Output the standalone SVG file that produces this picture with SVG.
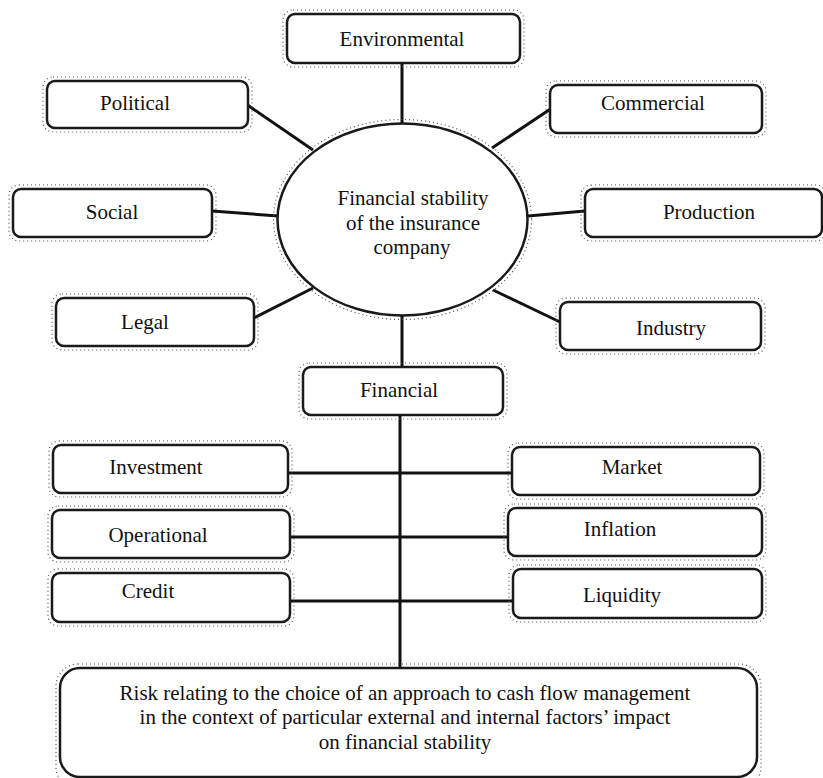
<svg xmlns="http://www.w3.org/2000/svg" width="823" height="778" viewBox="0 0 823 778">
<style>
.box{fill:#fff;stroke:#1a1a1a;stroke-width:2.5}
.halo{fill:none;stroke:#555;stroke-width:1.2;stroke-dasharray:1 3}
.t{font-family:"Liberation Serif","Times New Roman",serif;font-size:21px;fill:#111;text-anchor:middle}
.c{stroke:#111;stroke-width:3;fill:none}
</style>
<rect width="823" height="778" fill="#fff"/>
<g id="connectors">
<line class="c" x1="402" y1="63" x2="402" y2="124"/>
<line class="c" x1="246" y1="104" x2="313" y2="150"/>
<line class="c" x1="552" y1="108" x2="492" y2="148"/>
<line class="c" x1="212" y1="211" x2="278" y2="216"/>
<line class="c" x1="585" y1="211" x2="528" y2="216"/>
<line class="c" x1="254" y1="318" x2="313" y2="288"/>
<line class="c" x1="560" y1="322" x2="493" y2="290"/>
<line class="c" x1="402" y1="315" x2="402" y2="367"/>
<line class="c" x1="400" y1="415" x2="400" y2="668"/>
<line class="c" x1="288" y1="473" x2="512" y2="473"/>
<line class="c" x1="290" y1="537" x2="508" y2="537"/>
<line class="c" x1="290" y1="601" x2="513" y2="601"/>
</g>
<g id="center">
<ellipse class="halo" cx="402.5" cy="219.5" rx="129" ry="100"/>
<ellipse class="box" cx="402.5" cy="219.5" rx="125" ry="96"/>
<text class="t" x="413" y="205">Financial stability</text>
<text class="t" x="413" y="230">of the insurance</text>
<text class="t" x="412" y="254">company</text>
</g>
<g id="environmental">
<rect class="halo" x="283" y="10" width="241" height="57" rx="10"/>
<rect class="box" x="287" y="14" width="233" height="49" rx="8"/>
<text class="t" x="402" y="46">Environmental</text>
</g>
<g id="political">
<rect class="halo" x="43" y="77" width="209" height="55" rx="10"/>
<rect class="box" x="47" y="81" width="201" height="47" rx="8"/>
<text class="t" x="135" y="110">Political</text>
</g>
<g id="commercial">
<rect class="halo" x="546" y="81" width="220" height="56" rx="10"/>
<rect class="box" x="550" y="85" width="212" height="48" rx="8"/>
<text class="t" x="653" y="110">Commercial</text>
</g>
<g id="social">
<rect class="halo" x="9" y="185" width="207" height="56" rx="10"/>
<rect class="box" x="13" y="189" width="199" height="48" rx="8"/>
<text class="t" x="112" y="219">Social</text>
</g>
<g id="production">
<rect class="halo" x="581" y="185" width="245" height="56" rx="10"/>
<rect class="box" x="585" y="189" width="237" height="48" rx="8"/>
<text class="t" x="709" y="219">Production</text>
</g>
<g id="legal">
<rect class="halo" x="52" y="294" width="206" height="56" rx="10"/>
<rect class="box" x="56" y="298" width="198" height="48" rx="8"/>
<text class="t" x="145" y="329">Legal</text>
</g>
<g id="industry">
<rect class="halo" x="556" y="298" width="209" height="56" rx="10"/>
<rect class="box" x="560" y="302" width="201" height="48" rx="8"/>
<text class="t" x="671" y="335">Industry</text>
</g>
<g id="financial">
<rect class="halo" x="299" y="363" width="208" height="56" rx="10"/>
<rect class="box" x="303" y="367" width="200" height="48" rx="8"/>
<text class="t" x="399" y="397">Financial</text>
</g>
<g id="investment">
<rect class="halo" x="49" y="441" width="243" height="56" rx="10"/>
<rect class="box" x="53" y="445" width="235" height="48" rx="8"/>
<text class="t" x="156" y="474">Investment</text>
</g>
<g id="operational">
<rect class="halo" x="48" y="506" width="246" height="56" rx="10"/>
<rect class="box" x="52" y="510" width="238" height="48" rx="8"/>
<text class="t" x="158" y="542">Operational</text>
</g>
<g id="credit">
<rect class="halo" x="48" y="569" width="246" height="57" rx="10"/>
<rect class="box" x="52" y="573" width="238" height="49" rx="8"/>
<text class="t" x="148" y="598">Credit</text>
</g>
<g id="market">
<rect class="halo" x="508" y="443" width="256" height="56" rx="10"/>
<rect class="box" x="512" y="447" width="248" height="48" rx="8"/>
<text class="t" x="632" y="474">Market</text>
</g>
<g id="inflation">
<rect class="halo" x="504" y="504" width="262" height="56" rx="10"/>
<rect class="box" x="508" y="508" width="254" height="48" rx="8"/>
<text class="t" x="620" y="536">Inflation</text>
</g>
<g id="liquidity">
<rect class="halo" x="509" y="565" width="257" height="57" rx="10"/>
<rect class="box" x="513" y="569" width="249" height="49" rx="8"/>
<text class="t" x="622" y="602">Liquidity</text>
</g>
<g id="risk">
<rect class="halo" x="56" y="664" width="705" height="125" rx="22"/>
<rect class="box" x="60" y="668" width="697" height="109" rx="20"/>
<text class="t" x="405" y="700">Risk relating to the choice of an approach to cash flow management</text>
<text class="t" x="405" y="724">in the context of particular external and internal factors’ impact</text>
<text class="t" x="405" y="749">on financial stability</text>
</g>
</svg>
